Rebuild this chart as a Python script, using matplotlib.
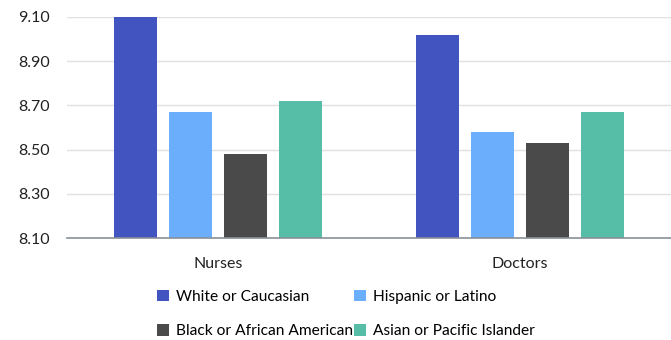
import matplotlib.pyplot as plt
import numpy as np

plt.rcParams['font.family'] = ['Lato', 'DejaVu Sans']

groups = ["Nurses", "Doctors"]
series = ["White or Caucasian", "Hispanic or Latino",
          "Black or African American", "Asian or Pacific Islander"]
white = [9.10, 9.02]
hispanic = [8.67, 8.58]
black = [8.48, 8.53]
asian = [8.72, 8.67]
yticks = [8.10, 8.30, 8.50, 8.70, 8.90, 9.10]

colors = ["#4154c0", "#6aaefc", "#4a4a4a", "#56bea6"]
values = [white, hispanic, black, asian]

fig = plt.figure(figsize=(6.71, 3.40), dpi=100)
ax = fig.add_axes([67/671, 102/340, 604/671, 221/340])

x = np.arange(len(groups))
w = 0.142
step = 0.182
handles = []
for i, (vals, c) in enumerate(zip(values, colors)):
    h = ax.bar(x + (i - 1.5) * step, np.array(vals) - 8.10, bottom=8.10,
               width=w, color=c, zorder=3, label=series[i])
    handles.append(h)

ax.set_xlim(-0.5, 1.5)
ax.set_ylim(8.10, 9.10)
ax.set_yticks(yticks)
ax.set_yticklabels(["%.2f" % t for t in yticks])
ax.set_xticks(x)
ax.set_xticklabels(groups)
ax.tick_params(length=0, labelsize=11.5, colors="#222222")
ax.tick_params(axis='x', pad=14)
ax.tick_params(axis='y', pad=12)
ax.grid(axis='y', color="#e0e0e0", linewidth=1, zorder=0)
for s in ["top", "right", "left"]:
    ax.spines[s].set_visible(False)
ax.spines["bottom"].set_color("#8a8f99")
ax.spines["bottom"].set_linewidth(1.2)
ax.spines["bottom"].set_zorder(4)

order = [0, 2, 1, 3]
fig.legend([handles[i] for i in order], [series[i] for i in order],
           ncol=2, loc="upper left", bbox_to_anchor=(157/671, 1 - 290/340),
           frameon=False, fontsize=11.2, handlelength=0.75, handleheight=0.75,
           handletextpad=0.45, columnspacing=0.1, labelspacing=1.3,
           borderaxespad=0, borderpad=0)

fig.savefig("out.png", dpi=100)
